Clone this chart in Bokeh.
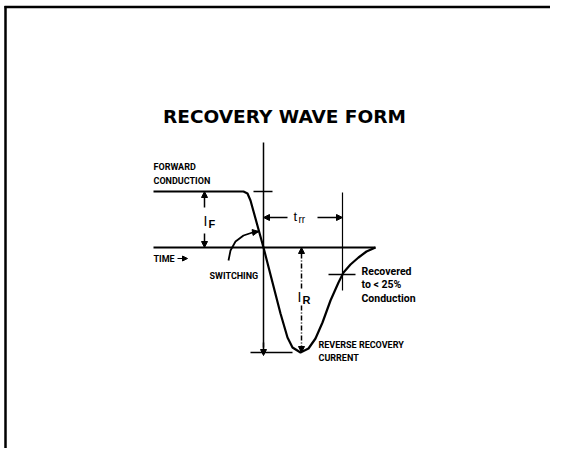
from bokeh.plotting import figure
from bokeh.models import Range1d, Arrow, NormalHead, ColumnDataSource
from bokeh.embed import file_html
from bokeh.resources import INLINE
from bokeh.core.properties import value

# ---- data (time offset from switching instant, current: forward positive) ----
wave_t = [-110, -20, -16, -13, 0, 17, 24, 29, 37, 45, 52, 59, 67, 75, 80, 87, 95, 103, 112]
wave_i = [56, 56, 54, 47, 0, -66, -90, -100, -105, -101, -91, -75, -53, -35, -25, -17, -10, -4, 0]

time_axis_t = [-110, 112]
current_axis_i = [105, -100]
i_forward = 56
i_reverse_peak = -105
t_rr_end = 79
i_recovered = -27

# dimension / leader geometry
if_dim_t = -59
ir_dim_t = 38
trr_dim_i = 30
leader_t = [-35, -33, -28, -20, -11, -5]
leader_i = [-13, -3, 6, 12, 15, 16]

labels_small = ["FORWARD", "CONDUCTION", "TIME", "SWITCHING", "REVERSE  RECOVERY", "CURRENT"]
labels_small_t = [-110, -110, -110, -54, 55, 55]
labels_small_i = [81, 67, -11, -28, -97, -110]

labels_rec = ["Recovered", "to < 25%", "Conduction"]
labels_rec_t = [98, 98, 98]
labels_rec_i = [-24, -37, -51]

title_text = "RECOVERY WAVE FORM"

# ---- figure: data units chosen so the picture maps 1:1 to pixels ----
W, H = 550, 448
x0, y0 = -263, -201
p = figure(width=W, height=H, output_backend="svg", toolbar_location=None,
           x_range=Range1d(x0, x0 + W), y_range=Range1d(y0, y0 + H),
           x_axis_type=None, y_axis_type=None, min_border=0,
           outline_line_color=None)
p.grid.visible = False
p.background_fill_color = "white"
p.border_fill_color = "white"

BLACK = "#000000"

# page frame (top and left edges)
p.line([x0 + 4, x0 + W], [y0 + H - 6.5, y0 + H - 6.5], line_color=BLACK, line_width=2.5)
p.line([x0 + 5, x0 + 5], [y0, y0 + H - 5.5], line_color=BLACK, line_width=2.5)

# axes
p.line(time_axis_t, [0, 0], line_color=BLACK, line_width=2)
p.line([0, 0], current_axis_i, line_color=BLACK, line_width=1.5)
p.add_layout(Arrow(end=NormalHead(size=6, fill_color=BLACK, line_color=BLACK),
                   x_start=0, y_start=-95, x_end=0, y_end=i_reverse_peak - 3,
                   line_color=BLACK, line_width=1.5))

# waveform
p.line(wave_t, wave_i, line_color=BLACK, line_width=2.2, line_join="round")

# reference ticks
p.line([-10, 9], [i_forward, i_forward], line_color=BLACK, line_width=1.5)
p.line([-13, 29], [i_reverse_peak, i_reverse_peak], line_color=BLACK, line_width=1.5)
p.line([t_rr_end - 14, t_rr_end + 13], [i_recovered, i_recovered], line_color=BLACK, line_width=1.5)
p.line([t_rr_end, t_rr_end], [i_forward - 1, -43], line_color=BLACK, line_width=1.2)

def arrow(xs, ys, xe, ye, dash="solid", size=6, lw=1.5):
    p.add_layout(Arrow(end=NormalHead(size=size, fill_color=BLACK, line_color=BLACK),
                       x_start=xs, y_start=ys, x_end=xe, y_end=ye,
                       line_color=BLACK, line_width=lw, line_dash=dash))

# I_F dimension
arrow(if_dim_t, 40, if_dim_t, i_forward)
arrow(if_dim_t, 14, if_dim_t, 0)
# I_R dimension (dash-dot)
arrow(ir_dim_t, -41, ir_dim_t, 0, dash="5 2 1 2")
arrow(ir_dim_t, -58, ir_dim_t, i_reverse_peak, dash="5 2 1 2")
# t_rr dimension
arrow(24, trr_dim_i, 0, trr_dim_i)
arrow(54, trr_dim_i, t_rr_end, trr_dim_i)
# time direction arrow
arrow(-86, -11, -76, -11, size=5, lw=1.2)

# switching leader
p.line(leader_t, leader_i, line_color=BLACK, line_width=1.8)
arrow(leader_t[-2], leader_i[-2], leader_t[-1], leader_i[-1], size=6)

# title
p.text(x=[21], y=[131], text=[title_text], text_font=value("DejaVu Sans"),
       text_font_style="bold", text_font_size="18.5px", text_align="center",
       text_baseline="middle", text_color=BLACK)

# small caps labels
src_small = ColumnDataSource(dict(x=labels_small_t, y=labels_small_i, text=labels_small))
p.text(x="x", y="y", text="text", source=src_small, text_font=value("Roboto"),
       text_font_style="bold", text_font_size="9px", text_align="left",
       text_baseline="middle", text_color=BLACK)

src_rec = ColumnDataSource(dict(x=labels_rec_t, y=labels_rec_i, text=labels_rec))
p.text(x="x", y="y", text="text", source=src_rec, text_font=value("Roboto"),
       text_font_style="bold", text_font_size="10.5px", text_align="left",
       text_baseline="middle", text_color=BLACK)

# symbol labels with subscripts
p.text(x=[if_dim_t - 1], y=[27], text=["I"], text_font=value("Liberation Sans"),
       text_font_size="14px", text_align="left", text_baseline="middle", text_color=BLACK)
p.text(x=[if_dim_t + 4], y=[24], text=["F"], text_font=value("Liberation Sans"),
       text_font_style="bold", text_font_size="11px", text_align="left", text_baseline="middle", text_color=BLACK)
p.text(x=[ir_dim_t - 4], y=[-49], text=["I"], text_font=value("Liberation Sans"),
       text_font_size="14px", text_align="left", text_baseline="middle", text_color=BLACK)
p.text(x=[ir_dim_t + 1], y=[-52], text=["R"], text_font=value("Liberation Sans"),
       text_font_style="bold", text_font_size="11px", text_align="left", text_baseline="middle", text_color=BLACK)
p.text(x=[30], y=[31], text=["t"], text_font=value("Liberation Sans"),
       text_font_size="13px", text_align="left", text_baseline="middle", text_color=BLACK)
p.text(x=[35], y=[28], text=["rr"], text_font=value("Liberation Sans"),
       text_font_size="10px", text_align="left", text_baseline="middle", text_color=BLACK)

open("out.html", "w").write(file_html(p, INLINE))
